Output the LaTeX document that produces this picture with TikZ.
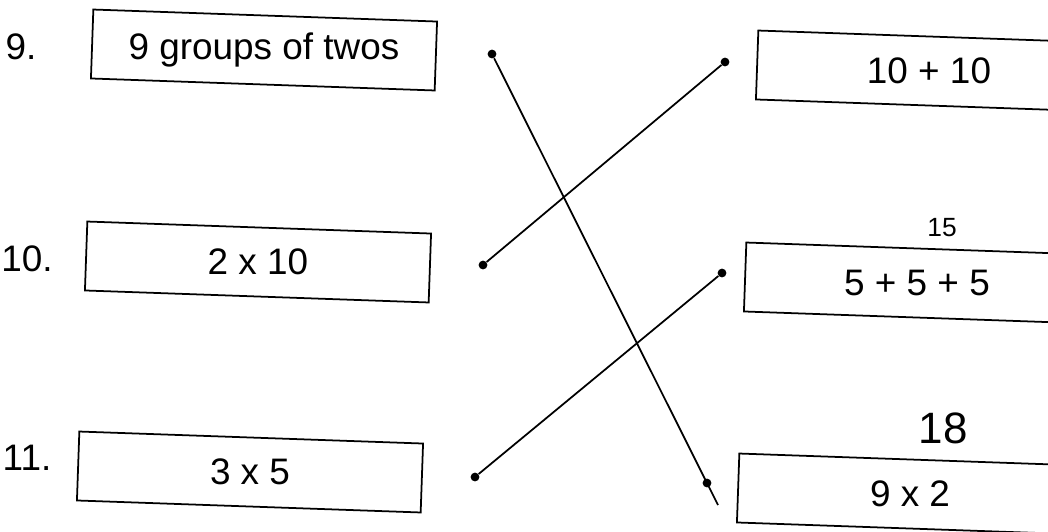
\documentclass[tikz,border=0pt]{standalone}
\usepackage{fontspec}
\usepackage{graphicx}
\setmainfont{Liberation Sans}
\newcommand\lvl[1]{\rotatebox{2}{#1}}
\begin{document}
\begin{tikzpicture}[x=0.02cm,y=-0.02cm,
    txt/.style={font=\fontsize{21}{25}\selectfont},
    box/.style={txt,draw,line width=1pt,rotate=-2,inner sep=0pt,
      minimum width=6.88cm,minimum height=1.38cm},
    dot/.style={circle,fill,inner sep=0pt,minimum size=5pt},
    hand/.style={font=\fontsize{#1}{#1}\selectfont}]
  \useasboundingbox (0,0) rectangle (1048,531);
  \clip (0,0) rectangle (1048,531);
  % numbers
  \draw
    (21,47) node[txt] (n9){9.}
    (27,259) node[txt] (n10){10.}
    (27,458) node[txt] (n11){11.};
  % left column
  \draw
    (264,50) node[box] (l1){\lvl{9 groups of twos}}
    (258,262) node[box] (l2){\lvl{2 x 10}}
    (250,472) node[box] (l3){\lvl{3 x 5}};
  % right column
  \draw
    (929,71) node[box] (r1){\lvl{10 + 10}}
    (917,283) node[box] (r2){\lvl{5 + 5 + 5}}
    (910,494) node[box] (r3){\lvl{9 x 2}};
  % written answers
  \draw
    (942,228) node[hand=15] (w15){15}
    (943,428) node[hand=25] (w18){18};
  % dots
  \draw
    (492,54) node[dot] (a1){}
    (483,265) node[dot] (a2){}
    (475,477) node[dot] (a3){}
    (725,62) node[dot] (b1){}
    (722,273) node[dot] (b2){}
    (707,483) node[dot] (b3){}
    (718,505) coordinate (e3);
  \begin{scope}[line width=1pt]
    \draw (a1) to (e3);
    \draw (b1) to (a2);
    \draw (b2) to (a3);
  \end{scope}
\end{tikzpicture}
\end{document}
